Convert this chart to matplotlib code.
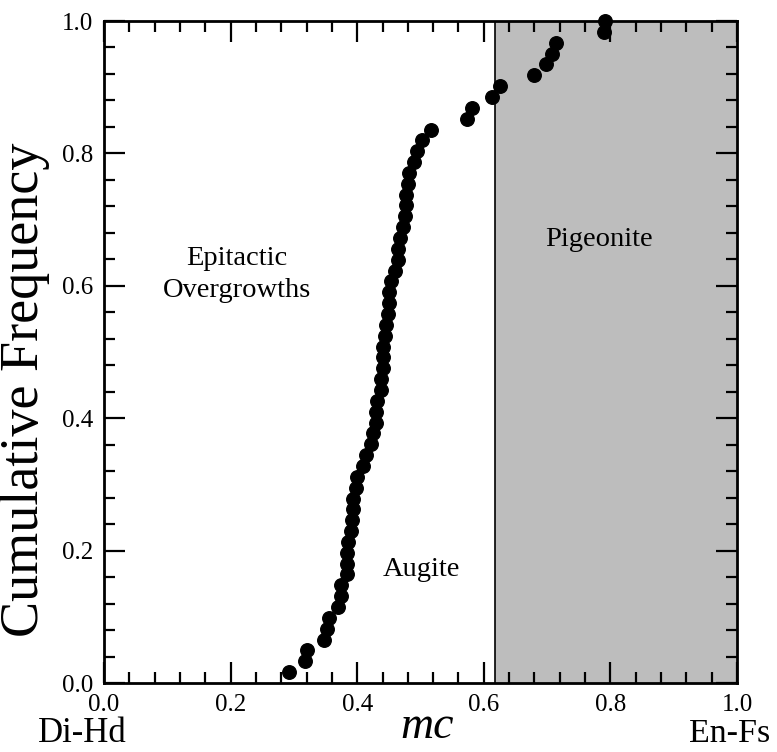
import matplotlib.pyplot as plt
import numpy as np

plt.rcParams['font.family'] = ['Liberation Serif', 'DejaVu Serif']

# mc values, sorted; cumulative frequency = rank / n
mc = [0.292, 0.317, 0.320, 0.348, 0.352, 0.356, 0.369, 0.375, 0.375, 0.384,
      0.384, 0.384, 0.385, 0.390, 0.392, 0.393, 0.394, 0.398, 0.400, 0.409,
      0.414, 0.422, 0.425, 0.430, 0.430, 0.431, 0.437, 0.438, 0.440, 0.440,
      0.441, 0.444, 0.445, 0.448, 0.450, 0.451, 0.454, 0.460, 0.464, 0.465,
      0.468, 0.472, 0.476, 0.477, 0.477, 0.480, 0.482, 0.490, 0.494, 0.502,
      0.516, 0.574, 0.582, 0.613, 0.625, 0.679, 0.698, 0.707, 0.714, 0.790,
      0.792]
n = len(mc)
cum_freq = np.arange(1, n + 1) / n

pigeonite_start = 0.617
ticks = [0.0, 0.2, 0.4, 0.6, 0.8, 1.0]
tick_labels = ['0.0', '0.2', '0.4', '0.6', '0.8', '1.0']

W, H = 777, 752
fig = plt.figure(figsize=(W / 100, H / 100), dpi=100)
ax = fig.add_axes([104 / W, 1 - 683 / H, 633 / W, 662 / H])

ax.axvspan(pigeonite_start, 1.0, color='#bdbdbd', lw=0, zorder=0)
ax.axvline(pigeonite_start, color='black', lw=1.2, zorder=1)
ax.scatter(mc, cum_freq, s=95, color='black', zorder=3, clip_on=False)

ax.set_xlim(0, 1)
ax.set_ylim(0, 1)
ax.set_xticks(ticks)
ax.set_xticklabels(tick_labels)
ax.set_yticks(ticks)
ax.set_yticklabels(tick_labels)
ax.set_xticks(np.arange(0, 1.0001, 0.04), minor=True)
ax.set_yticks(np.arange(0, 1.0001, 0.04), minor=True)
ax.tick_params(which='both', direction='in', top=True, right=True, width=1.6,
               labelsize=18)
ax.tick_params(which='major', length=15, pad=8)
ax.tick_params(which='minor', length=8)
for s in ax.spines.values():
    s.set_linewidth(2)

ax.text(0.21, 0.631, 'Epitactic', ha='center', va='baseline', fontsize=20.5)
ax.text(0.21, 0.583, 'Overgrowths', ha='center', va='baseline', fontsize=20.5)
ax.text(0.501, 0.161, 'Augite', ha='center', va='baseline', fontsize=20.5)
ax.text(0.782, 0.660, 'Pigeonite', ha='center', va='baseline', fontsize=20.5)

fig.text(82 / W, 1 - 742 / H, 'Di-Hd', ha='center', va='baseline', fontsize=25)
fig.text(730 / W, 1 - 742 / H, 'En-Fs', ha='center', va='baseline', fontsize=24.5)
fig.text(427 / W, 1 - 738 / H, 'mc', ha='center', va='baseline', fontsize=33,
         style='italic')
fig.text(25 / W, 1 - 390 / H, 'Cumulative Frequency', ha='center', va='center',
         rotation=90, fontsize=39)

plt.savefig('out.png', dpi=100)
